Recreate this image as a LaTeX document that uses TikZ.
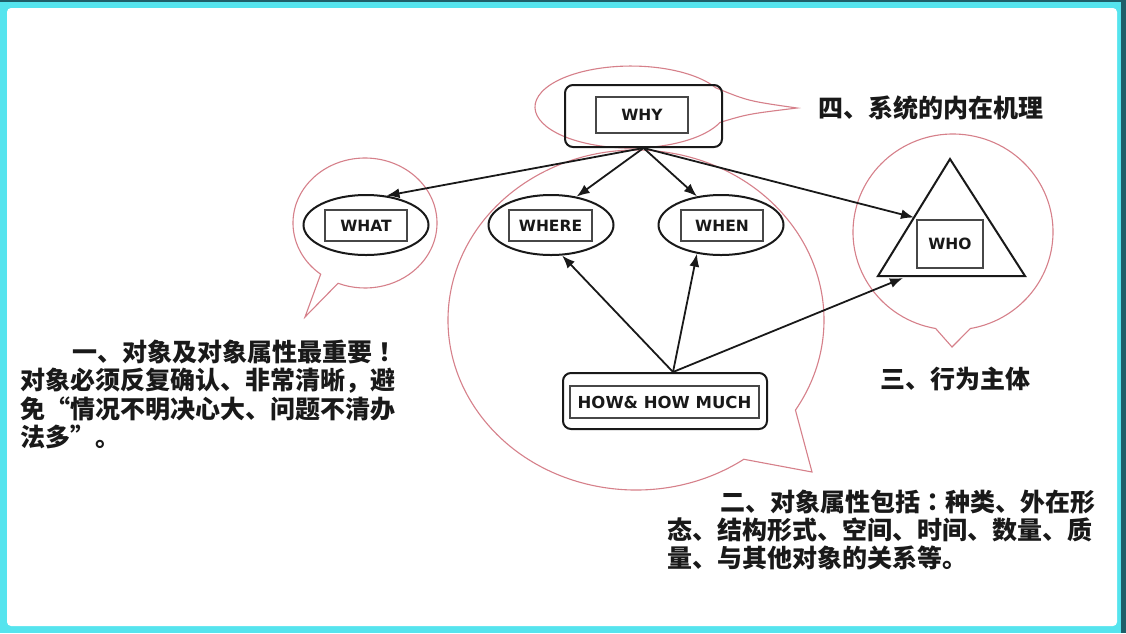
\documentclass[tikz,border=0pt]{standalone}
\usepackage{fontspec}
\newfontfamily\cjk[CharacterWidth=Full]{Noto Sans CJK SC}
\newfontfamily\cjkjp{Noto Sans CJK JP}
\newfontfamily\lat{DejaVu Sans}
\usetikzlibrary{arrows.meta,shapes.geometric,calc}
\definecolor{framecol}{RGB}{85,228,238}
\definecolor{framedark}{RGB}{30,95,105}
\definecolor{bub}{RGB}{214,128,138}
\definecolor{ink}{RGB}{25,25,25}
\begin{document}
\begin{tikzpicture}[x=1pt,y=-1pt,
  lab/.style={font=\lat\bfseries\fontsize{15.5}{18}\selectfont, text=ink},
  inbox/.style={lab, rectangle, draw=ink!80, line width=1.5pt, inner sep=0pt},
  oval/.style={ellipse, draw=ink, line width=2pt, minimum width=125pt, minimum height=60pt, inner sep=0pt},
  rbox/.style={rectangle, rounded corners=8pt, draw=ink, line width=2pt, inner sep=0pt},
  arr/.style={-{Latex[length=13pt,width=10pt]}, line width=1.8pt, draw=ink},
  bubble/.style={draw=bub, line width=1.1pt, line join=miter},
  cjktext/.style={font=\cjk\bfseries\fontsize{25}{28}\selectfont, text=ink, inner sep=0pt, anchor=base west}
]
\useasboundingbox (0,0) rectangle (1126,633);
% frame
\fill[framecol] (0,0) rectangle (1126,633);
\fill[framedark] (0,0) rectangle (1126,2);
\fill[framedark] (1121,0) rectangle (1126,633);
\fill[white, rounded corners=4pt] (7,8) rectangle (1117,626);

% speech bubbles
\draw[bubble] (720,122.4) arc[start angle=22, end angle=332, x radius=96, y radius=41]
   .. controls (748,101) .. (797,108) .. controls (748,114) .. (720,122.4) -- cycle;
\draw[bubble] (365,223) ++(128:72 and 65) arc[start angle=128, end angle=472, x radius=72, y radius=65] -- (305,317) -- cycle;
\draw[bubble] (636,320) ++(55:188 and 170) arc[start angle=55, end angle=392, x radius=188, y radius=170] -- (812,472) -- cycle;
\draw[bubble] (953,232) ++(100:100 and 98) arc[start angle=100, end angle=440, x radius=100, y radius=98] -- (952,347) -- cycle;

% WHY
\node[rbox, minimum width=157pt, minimum height=62pt] (why) at (643.5,116) {};
\node[inbox, minimum width=92pt, minimum height=36pt] (whyT) at (642,115) {WHY};

% WHAT, WHERE, WHEN
\node[oval] (what) at (366,225) {};
\node[inbox, minimum width=82pt, minimum height=31pt] (whatT) at (366,225.5) {WHAT};
\node[oval] (where) at (551,225) {};
\node[inbox, minimum width=83pt, minimum height=31pt] (whereT) at (550.5,225.5) {WHERE};
\node[oval] (when) at (721,225) {};
\node[inbox, minimum width=82pt, minimum height=31pt] (whenT) at (722,225.5) {WHEN};

% WHO
\coordinate (tA) at (950,159);
\coordinate (tB) at (878,276);
\coordinate (tC) at (1025,276);
\draw[ink, line width=2pt, line join=miter] (tA) -- (tB) -- (tC) -- cycle;
\node[inbox, minimum width=66pt, minimum height=48pt] (who) at (950,244) {WHO};
\coordinate (whoSide) at ($(tA)!0.5!(tB)$);
\coordinate (whoBase) at ($(tB)!0.17!(tC)+(0,2)$);

% HOW
\node[rbox, minimum width=204pt, minimum height=56pt] (how) at (665,401) {};
\node[inbox, minimum width=189pt, minimum height=32pt, font=\lat\bfseries\fontsize{16.5}{18}\selectfont] (howT) at (664.5,402) {HOW\& HOW MUCH};

% arrows
\draw[arr] (why.south) -- (what.55);
\draw[arr] (why.south) -- (where.48);
\draw[arr] (why.south) -- (when.130);
\draw[arr] (why.south) -- (whoSide);
\draw[arr] ([xshift=8pt]how.north) -- (where.-70);
\draw[arr] ([xshift=8pt]how.north) -- (when.-130);
\draw[arr] ([xshift=8pt]how.north) -- (whoBase);

% texts
\node[cjktext] (t4) at (818,117.5) {四、系统的内在机理};
\node[cjktext, anchor=base] (t3) at (955,388.5) {三、行为主体};
\node[cjktext] (l1) at (72,361.5) {一、对象及对象属性最重要{\cjkjp ！}};
\node[cjktext] (l2) at (20,389.5) {对象必须反复确认、非常清晰，避};
\node[cjktext] (l3) at (20,418) {免“情况不明决心大、问题不清办};
\node[cjktext] (l4) at (20,446.5) {法多”。};
\node[cjktext] (r1) at (720,511) {二、对象属性包括{\cjkjp ：}种类、外在形};
\node[cjktext] (r2) at (667,539) {态、结构形式、空间、时间、数量、质};
\node[cjktext] (r3) at (667,567) {量、与其他对象的关系等。};
\end{tikzpicture}
\end{document}
